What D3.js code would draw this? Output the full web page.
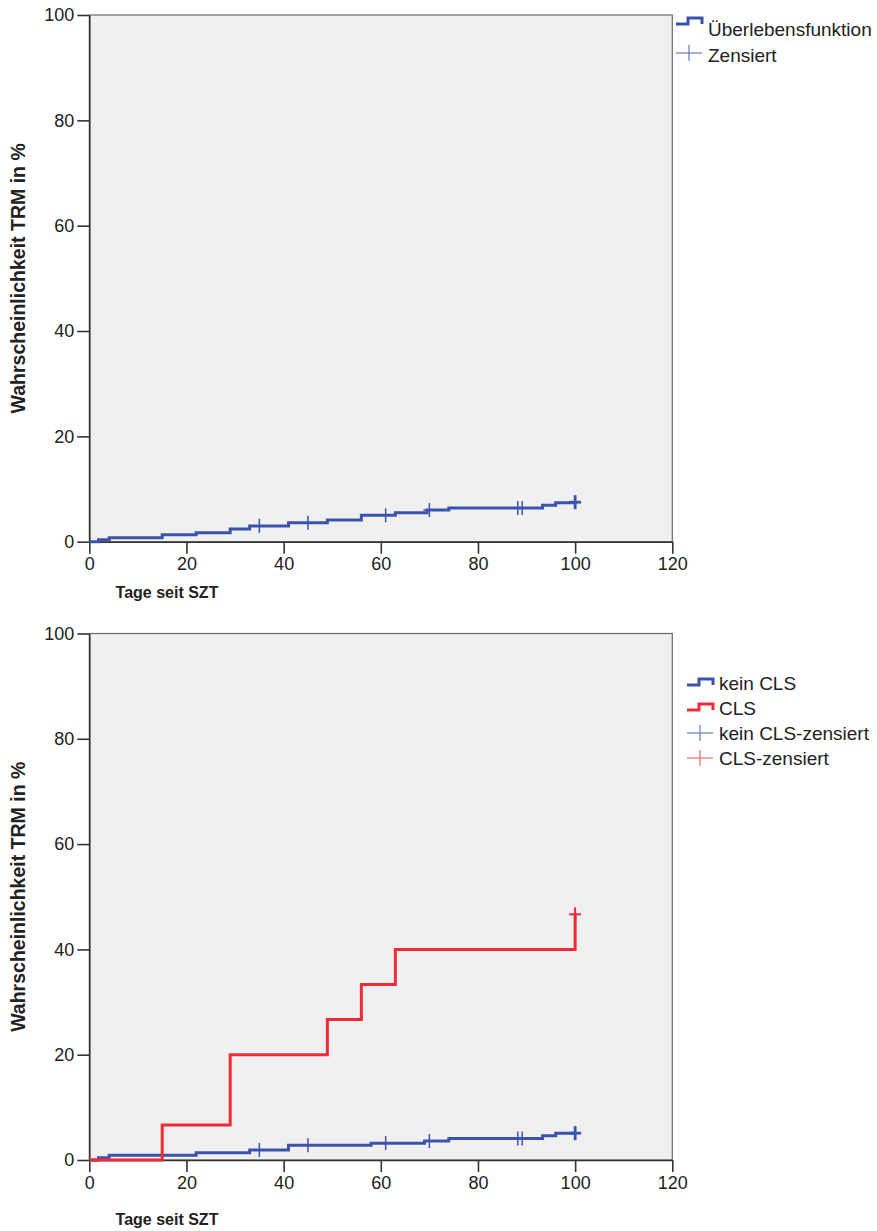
<!DOCTYPE html>
<html>
<head>
<meta charset="utf-8">
<script src="https://cdn.jsdelivr.net/npm/d3@7"></script>
<style>
  body { margin: 0; background: #fff; }
  text { font-family: "Liberation Sans", Arial, sans-serif; }
</style>
</head>
<body>
<script>
// axis ticks
const xTicks = [0, 20, 40, 60, 80, 100, 120];
const yTicks = [0, 20, 40, 60, 80, 100];

// top chart: all patients (cumulative TRM in %)
const allDays = [0, 1.9, 4.1, 15, 22, 29, 33, 41, 49, 56, 63, 69.5, 74, 93.3, 96, 100];
const allPct = [0, 0.35, 0.75, 1.3, 1.7, 2.4, 3.0, 3.6, 4.1, 5.0, 5.5, 6.0, 6.4, 6.9, 7.4, 7.5];
const allCensored = [35, 45, 61, 70, 88.2, 89.1, 100];

// bottom chart: kein CLS
const keinDays = [0, 1.9, 4.1, 22, 33, 41, 58, 69, 74, 93.3, 96, 100];
const keinPct = [0, 0.45, 0.9, 1.4, 1.9, 2.8, 3.2, 3.6, 4.1, 4.6, 5.1, 5.1];
const keinCensored = [35, 45, 61, 70, 88.2, 89.1, 100];

// bottom chart: CLS
const clsDays = [0, 15, 29, 49, 56, 63, 100];
const clsPct = [0, 6.67, 20, 26.67, 33.33, 40, 46.67];
const clsCensored = [100];

const blue = '#3d52ad';
const blueLight = '#6f82cc';
const red = '#ee2b36';
const redLight = '#f2707a';
const ink = '#222';

const W = 877, H = 1231;
const svg = d3.select('body').append('svg')
  .attr('width', W).attr('height', H)
  .style('display', 'block');

function valueAt (days, pct, t) {
  let v = pct[0];
  for (let i = 0; i < days.length; i++) if (days[i] <= t) v = pct[i];
  return v;
}

function drawChart (cfg) {
  const g = svg.append('g');
  const x = d3.scaleLinear().domain([0, 120]).range([cfg.left, cfg.right]);
  const y = d3.scaleLinear().domain([0, 100]).range([cfg.bottom, cfg.top]);

  g.append('rect')
    .attr('x', x(0)).attr('y', y(100))
    .attr('width', x(120) - x(0)).attr('height', y(0) - y(100))
    .attr('fill', '#f0f0f0')
    .attr('stroke', '#6b6b6b').attr('stroke-width', 1.2);

  const xAxis = g.append('g')
    .attr('transform', `translate(0,${y(0)})`)
    .call(d3.axisBottom(x).tickValues(xTicks).tickSize(12).tickSizeOuter(0).tickPadding(4));
  const yAxis = g.append('g')
    .attr('transform', `translate(${x(0)},0)`)
    .call(d3.axisLeft(y).tickValues(yTicks).tickSize(12).tickSizeOuter(0).tickPadding(3));

  [xAxis, yAxis].forEach(a => {
    a.select('.domain').attr('stroke', '#333').attr('stroke-width', 1.6);
    a.selectAll('.tick line').attr('stroke', '#333').attr('stroke-width', 1.6);
    a.selectAll('.tick text').attr('fill', ink).style('font-size', '18px')
      .style('font-family', '"Liberation Sans", Arial, sans-serif');
  });

  const line = d3.line()
    .x(d => x(d[0]))
    .y(d => y(d[1]))
    .curve(d3.curveStepAfter);

  cfg.series.forEach(s => {
    const pts = s.days.map((d, i) => [d, s.pct[i]]);
    g.append('path')
      .attr('d', line(pts))
      .attr('fill', 'none')
      .attr('stroke', s.color)
      .attr('stroke-width', 3)
      .attr('stroke-linejoin', 'miter');

    const marks = g.append('g').selectAll('g')
      .data(s.censored)
      .join('g')
      .attr('transform', t => `translate(${x(t)},${y(valueAt(s.days, s.pct, t))})`);
    marks.append('line')
      .attr('x1', -6).attr('x2', 6)
      .attr('stroke', s.color)
      .attr('stroke-width', t => t >= 100 ? s.endWidth : 1.5);
    marks.append('line')
      .attr('y1', -7).attr('y2', 7)
      .attr('stroke', s.color)
      .attr('stroke-width', t => t >= 100 ? s.endWidth : 1.5);
  });

  // axis titles
  g.append('text')
    .attr('transform', `translate(25,${(y(0) + y(100)) / 2}) rotate(-90)`)
    .attr('text-anchor', 'middle')
    .attr('fill', ink)
    .style('font-size', '19.5px').style('font-weight', 'bold')
    .text('Wahrscheinlichkeit TRM in %');
  g.append('text')
    .attr('x', cfg.xTitleX).attr('y', cfg.xTitleY)
    .attr('text-anchor', 'middle')
    .attr('fill', ink)
    .style('font-size', '16px').style('font-weight', 'bold')
    .text('Tage seit SZT');

  // legend
  const lg = g.append('g');
  cfg.legend.forEach((item, i) => {
    const by = cfg.legendY + i * cfg.legendStep;
    const ix = cfg.legendX;
    if (item.type === 'step') {
      const lo = by - cfg.iconLow, hi = lo - 6;
      lg.append('path')
        .attr('d', `M${ix},${lo}H${ix + 12}V${hi}H${ix + 26}V${lo}`)
        .attr('fill', 'none')
        .attr('stroke', item.color)
        .attr('stroke-width', 3);
    } else {
      const cy = by - cfg.crossUp;
      lg.append('line')
        .attr('x1', ix).attr('x2', ix + 26).attr('y1', cy).attr('y2', cy)
        .attr('stroke', item.color).attr('stroke-width', 1.3);
      lg.append('line')
        .attr('x1', ix + 13).attr('x2', ix + 13).attr('y1', cy - 8).attr('y2', cy + 8)
        .attr('stroke', item.color).attr('stroke-width', 1.3);
    }
    lg.append('text')
      .attr('x', ix + 32).attr('y', by)
      .attr('fill', ink)
      .style('font-size', '19px')
      .text(item.label);
  });
}

drawChart({
  left: 89.3, right: 672.3, top: 15, bottom: 541.7,
  xTitleX: 167, xTitleY: 598,
  series: [
    { days: allDays, pct: allPct, censored: allCensored, color: blue, endWidth: 2.8 }
  ],
  legendX: 676, legendY: 36, legendStep: 26, iconLow: 12, crossUp: 9,
  legend: [
    { type: 'step', color: blue, label: 'Überlebensfunktion' },
    { type: 'cross', color: blueLight, label: 'Zensiert' }
  ]
});

drawChart({
  left: 89.3, right: 672.3, top: 633.5, bottom: 1160,
  xTitleX: 167, xTitleY: 1225,
  series: [
    { days: keinDays, pct: keinPct, censored: keinCensored, color: blue, endWidth: 2.8 },
    { days: clsDays, pct: clsPct, censored: clsCensored, color: red, endWidth: 2 }
  ],
  legendX: 687, legendY: 690, legendStep: 25, iconLow: 5, crossUp: 7,
  legend: [
    { type: 'step', color: blue, label: 'kein CLS' },
    { type: 'step', color: red, label: 'CLS' },
    { type: 'cross', color: blueLight, label: 'kein CLS-zensiert' },
    { type: 'cross', color: redLight, label: 'CLS-zensiert' }
  ]
});
</script>
</body>
</html>
